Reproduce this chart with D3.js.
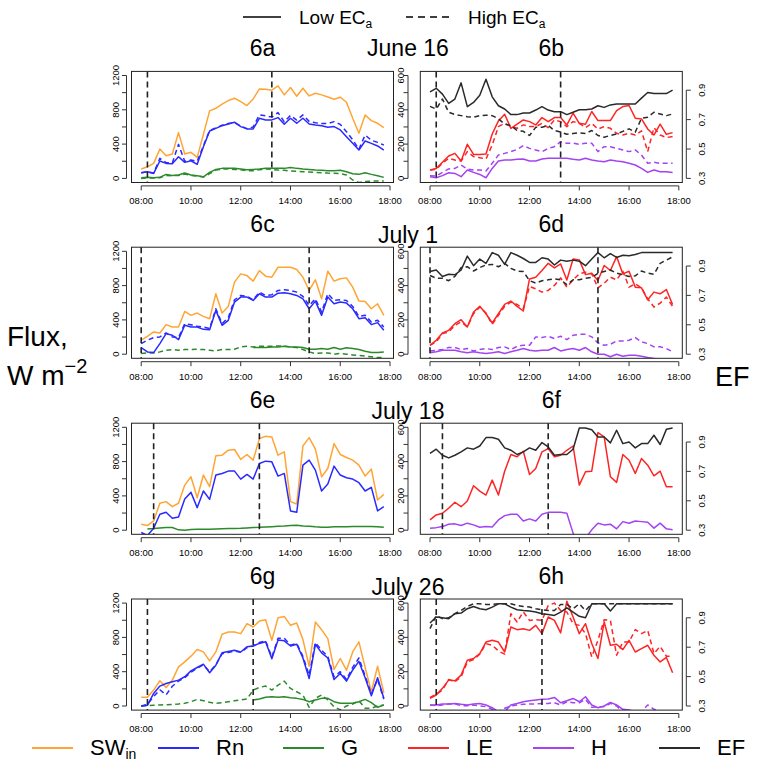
<!DOCTYPE html>
<html><head><meta charset="utf-8">
<script src="https://cdn.jsdelivr.net/npm/d3@7"></script>
<style>body{margin:0;background:#fff}svg{display:block}text{font-family:"Liberation Sans",Arial,sans-serif;fill:#000}</style>
</head><body><svg id="c" width="767" height="761"></svg>
<script>
const times = ["08:00","08:15","08:30","08:45","09:00","09:15","09:30","09:45","10:00","10:15",
"10:30","10:45","11:00","11:15","11:30","11:45","12:00","12:15","12:30","12:45",
"13:00","13:15","13:30","13:45","14:00","14:15","14:30","14:45","15:00","15:15",
"15:30","15:45","16:00","16:15","16:30","16:45","17:00","17:15","17:30","17:45"];
const timeTicks = ["08:00","10:00","12:00","14:00","16:00","18:00"];
const fluxTicksLeft = [0,200,400,600,800,1000,1200];
const fluxLabelsLeft = [0,400,800,1200];
const fluxTicksRight = [0,100,200,300,400,500,600];
const fluxLabelsRight = [0,200,400,600];
const efTicks = [0.3,0.5,0.7,0.9];
const panelIds = [["6a","6b"],["6c","6d"],["6e","6f"],["6g","6h"]];
const dates = ["June 16","July 1","July 18","July 26"];
const markTimes = [["08:15","13:15"],["08:00","14:45"],["08:30","12:45"],["08:15","12:30"]];

// June 16
const swin_jun16 = [109,136,175,343,265,284,534,284,304,245,514,787,818,865,908,935,896,849,927,1044,1040,1029,1079,974,1060,958,1052,962,993,974,950,923,947,888,701,526,740,674,643,592];
const rn_jun16_low = [66,78,58,203,175,171,253,187,206,164,370,553,584,615,635,655,604,577,577,701,682,682,709,631,701,643,701,635,623,615,596,604,565,487,409,331,436,409,378,331];
const rn_jun16_high = [66,78,62,234,185,180,397,200,215,200,380,560,590,620,640,650,610,580,600,740,730,715,767,660,735,680,740,665,650,640,640,662,630,545,450,340,506,445,420,390];
const g_jun16_low = [8,12,8,12,47,35,39,62,39,31,19,70,105,117,117,117,109,101,105,109,117,117,117,117,128,117,109,105,97,94,90,90,94,78,55,47,66,47,31,12];
const g_jun16_high = [0,4,4,8,35,31,35,50,35,27,15,55,97,109,109,105,101,90,90,101,109,105,97,94,86,82,78,74,70,66,62,60,55,40,-19,-47,-35,-31,-31,-31];
const le_jun16_low = [49,58,94,131,146,101,199,140,140,142,259,335,374,292,316,341,331,312,355,331,355,355,312,380,321,316,390,337,337,337,395,419,425,351,347,288,253,316,257,267];
const le_jun16_high = [49,53,88,117,107,101,156,127,121,113,195,302,321,302,292,312,302,302,321,296,341,331,302,331,321,296,321,288,302,292,263,253,263,253,277,156,296,253,238,244];
const h_jun16_low = [10,4,16,33,29,10,49,35,23,4,58,101,107,107,111,113,101,101,113,117,117,117,117,111,107,117,107,101,97,107,101,97,88,78,58,35,49,39,39,35];
const h_jun16_high = [16,14,35,55,58,78,55,49,49,43,88,136,146,156,169,191,175,166,156,175,185,214,205,205,199,205,205,156,185,185,175,166,156,166,136,88,94,88,88,88];
const ef_jun16_low = [0.889,0.913,0.873,0.81,0.84,0.95,0.788,0.817,0.866,0.974,0.855,0.794,0.772,0.734,0.734,0.745,0.745,0.765,0.788,0.765,0.754,0.754,0.734,0.75,0.767,0.767,0.772,0.794,0.783,0.8,0.806,0.806,0.806,0.806,0.846,0.884,0.877,0.877,0.877,0.9];
const ef_jun16_high = [0.79,0.772,0.84,0.75,0.734,0.727,0.72,0.716,0.727,0.73,0.727,0.705,0.67,0.66,0.626,0.62,0.592,0.648,0.648,0.66,0.626,0.615,0.6,0.605,0.61,0.605,0.626,0.592,0.58,0.592,0.603,0.62,0.637,0.615,0.709,0.716,0.75,0.738,0.727,0.738];

// July 1
const swin_jul1 = [163,209,259,248,345,317,317,499,453,480,441,414,705,480,557,840,937,917,852,975,910,898,1014,1014,1014,987,898,743,867,646,968,852,879,890,782,619,615,530,588,453];
const rn_jul1_low = [77,27,19,124,240,221,170,337,317,317,290,286,511,337,395,608,666,666,627,705,666,666,712,716,705,685,646,530,619,453,666,588,608,596,530,414,426,345,368,279];
const rn_jul1_high = [124,163,194,201,248,201,194,356,344,325,317,298,530,356,426,635,685,677,635,724,685,693,743,751,743,724,674,569,646,491,705,627,635,627,557,441,453,375,395,317];
const g_jul1_low = [null,null,null,null,null,null,null,null,null,null,null,null,null,null,null,null,null,null,77,77,77,85,85,93,85,85,77,58,58,66,58,77,58,74,66,54,35,19,19,27];
const g_jul1_high = [8,15,15,27,46,54,46,54,54,58,54,46,39,54,54,58,85,93,85,93,93,93,97,93,85,77,54,27,8,15,15,0,8,0,-8,-15,-23,-31,-39,-39];
const le_jul1_low = [52,81,124,139,178,201,159,246,279,236,182,236,290,310,279,252,439,449,488,530,503,526,433,555,550,464,472,430,517,488,569,468,484,391,387,317,362,352,377,290];
const le_jul1_high = [52,72,120,130,168,188,159,236,275,240,174,226,279,304,290,265,395,381,362,372,401,445,391,433,468,478,468,387,414,449,433,484,391,410,387,323,275,298,333,279];
const h_jul1_low = [8,14,23,23,23,14,8,14,8,4,8,14,4,14,23,33,23,19,23,23,39,19,27,33,23,39,14,0,0,-15,0,-12,-6,-6,-12,-19,-25,-31,-35,-35];
const h_jul1_high = [19,23,27,39,39,27,33,19,27,33,27,39,43,27,46,52,52,101,97,105,91,105,85,110,116,116,101,66,52,58,77,77,81,97,72,62,43,43,33,14];
const ef_jul1_low = [0.862,0.873,0.829,0.844,0.84,0.873,0.967,0.902,0.947,0.918,0.991,0.973,0.911,0.991,0.973,0.951,0.924,0.924,0.956,0.947,0.907,0.94,0.933,0.94,0.933,0.902,0.947,0.991,0.956,0.984,0.958,0.973,0.969,0.978,0.991,0.991,0.991,0.991,0.991,0.991];
const ef_jul1_high = [0.835,0.817,0.817,0.8,0.829,0.889,0.895,0.866,0.889,0.907,0.911,0.895,0.918,0.884,0.866,0.862,0.8,0.784,0.8,0.806,0.813,0.806,0.773,0.806,0.806,0.817,0.822,0.851,0.862,0.873,0.851,0.84,0.829,0.833,0.866,0.851,0.844,0.918,0.94,0.962];

// July 18
const swin_jul18 = [70,54,108,314,333,275,314,526,623,379,643,507,867,875,933,941,825,883,817,1068,1095,1088,875,914,333,306,983,1080,945,623,720,1010,883,848,817,759,631,712,352,418];
const rn_jul18 = [-27,-62,23,186,209,139,155,364,441,263,457,360,643,662,689,689,596,650,596,778,805,797,631,662,225,209,759,817,701,457,538,747,643,612,596,554,457,499,225,275];
const g_jul18 = [null,15,19,27,31,31,4,0,8,10,12,12,15,17,19,21,23,27,31,33,37,41,46,50,56,58,50,46,39,35,35,39,39,39,42,42,42,42,39,35];
const le_jul18 = [60,89,99,128,163,137,170,259,228,205,292,205,344,441,428,460,325,360,457,476,428,437,466,491,263,341,344,569,544,312,279,441,408,331,418,379,317,344,253,253];
const h_jul18 = [12,15,21,35,37,27,41,31,17,21,19,60,85,93,93,54,66,54,93,104,104,104,99,-17,-85,-46,2,41,31,35,8,50,41,54,50,46,12,41,8,2];
const ef_jul18 = [0.822,0.851,0.81,0.792,0.81,0.833,0.86,0.851,0.873,0.93,0.93,0.919,0.86,0.844,0.815,0.833,0.86,0.844,0.896,0.867,0.81,0.815,0.815,0.851,0.995,0.995,0.984,0.934,0.934,0.894,0.98,0.889,0.9,0.86,0.889,0.889,0.946,0.883,0.986,0.995];

// July 26
const swin_jul26 = [101,101,186,294,217,302,457,515,581,658,631,526,631,836,863,863,844,960,921,991,1006,766,1030,1045,941,968,774,464,979,890,786,426,554,418,631,747,449,166,464,155];
const rn_jul26_low = [0,8,147,232,263,283,302,341,410,449,488,387,476,620,635,650,630,690,700,730,750,550,770,760,700,720,560,320,720,620,560,310,380,290,420,520,330,120,330,90];
const rn_jul26_high = [0,20,110,190,130,230,290,330,395,440,480,400,480,610,625,640,625,680,700,740,760,570,790,790,710,730,580,360,740,650,580,340,400,310,450,560,350,140,310,80];
const g_jul26_low = [null,null,null,null,null,null,null,null,null,null,null,null,null,null,null,null,null,null,70,81,101,108,101,108,97,89,77,50,70,89,89,50,31,31,31,50,77,39,-15,12];
const g_jul26_high = [0,4,8,12,15,19,23,31,50,77,62,43,31,39,50,62,70,81,186,217,232,186,244,290,205,166,128,-15,89,128,70,-8,-46,0,23,62,-27,-27,0,12];
const le_jul26_low = [45,64,103,151,147,180,267,277,306,373,383,373,315,461,445,451,441,470,422,519,499,426,611,519,422,480,364,277,490,354,360,329,383,315,335,354,296,257,283,194];
const le_jul26_high = [50,68,93,155,141,170,257,271,302,364,354,321,302,538,490,548,499,503,499,586,600,557,548,480,470,422,286,383,503,499,296,373,373,445,422,441,306,348,290,290];
const h_jul26_low = [6,6,12,12,15,10,6,12,15,6,-10,-33,-33,6,15,25,31,35,39,41,50,19,31,44,25,54,6,-10,0,21,6,-19,-23,-33,-33,-33,-33,-33,-33,-33];
const h_jul26_high = [6,2,6,12,12,2,2,6,0,-4,-19,-33,-13,0,6,10,12,12,15,15,19,6,25,19,19,39,-8,-4,-4,15,0,-33,-33,-33,-33,6,-19,-33,-33,-33];
const ef_jul26_low = [0.865,0.905,0.9,0.894,0.928,0.932,0.962,0.977,0.962,0.955,0.973,0.995,0.995,0.973,0.955,0.95,0.946,0.939,0.928,0.923,0.916,0.939,0.968,0.939,0.91,0.9,0.995,0.995,0.995,0.946,0.995,0.995,0.995,0.995,0.995,0.995,0.995,0.995,0.995,0.995];
const ef_jul26_high = [0.826,0.916,0.894,0.9,0.928,0.95,0.977,0.995,0.995,0.991,0.991,0.995,0.995,0.995,0.984,0.977,0.973,0.962,0.955,0.95,0.95,0.991,0.991,0.962,0.995,0.95,0.995,0.995,0.995,0.995,0.995,0.995,0.995,0.995,0.995,0.995,0.995,0.995,0.995,0.995];

const COL = {sw:"#FFA535", rn:"#2a2aff", g:"#2b8a2b", le:"#ff2424", h:"#a443f2", ef:"#2a2a2a"};

const leftPanels = [
  [{v:g_jun16_high,c:"g",d:1},{v:g_jun16_low,c:"g"},{v:swin_jun16,c:"sw"},{v:rn_jun16_high,c:"rn",d:1},{v:rn_jun16_low,c:"rn"}],
  [{v:g_jul1_high,c:"g",d:1},{v:g_jul1_low,c:"g"},{v:swin_jul1,c:"sw"},{v:rn_jul1_high,c:"rn",d:1},{v:rn_jul1_low,c:"rn"}],
  [{v:g_jul18,c:"g"},{v:swin_jul18,c:"sw"},{v:rn_jul18,c:"rn"}],
  [{v:g_jul26_high,c:"g",d:1},{v:g_jul26_low,c:"g"},{v:swin_jul26,c:"sw"},{v:rn_jul26_high,c:"rn",d:1},{v:rn_jul26_low,c:"rn"}]
];
const rightPanels = [
  [{v:h_jun16_high,c:"h",d:1},{v:h_jun16_low,c:"h"},{v:le_jun16_high,c:"le",d:1},{v:le_jun16_low,c:"le"},{v:ef_jun16_high,c:"ef",d:1,ef:1},{v:ef_jun16_low,c:"ef",ef:1}],
  [{v:h_jul1_high,c:"h",d:1},{v:h_jul1_low,c:"h"},{v:le_jul1_high,c:"le",d:1},{v:le_jul1_low,c:"le"},{v:ef_jul1_high,c:"ef",d:1,ef:1},{v:ef_jul1_low,c:"ef",ef:1}],
  [{v:h_jul18,c:"h"},{v:le_jul18,c:"le"},{v:ef_jul18,c:"ef",ef:1}],
  [{v:h_jul26_high,c:"h",d:1},{v:h_jul26_low,c:"h"},{v:le_jul26_high,c:"le",d:1},{v:le_jul26_low,c:"le"},{v:ef_jul26_high,c:"ef",d:1,ef:1},{v:ef_jul26_low,c:"ef",ef:1}]
];

const svg = d3.select("#c");
const toH = s => { const p = s.split(":").map(Number); return p[0] + p[1]/60; };
const rowZero = [178.4, 354.2, 530.2, 706.0];
const HT = 102.9, PAD = 4.1;
const xDom = [7.61, 18.14];
const sides = [{x0:131.5, x1:393.5, max:1200, ticks:fluxTicksLeft, labels:fluxLabelsLeft, axisX:126.5, labX:118.5},
               {x0:420.3, x1:682.3, max:600, ticks:fluxTicksRight, labels:fluxLabelsRight, axisX:408, labX:403.5}];
const tickFont = 9.5;

rowZero.forEach((z, r) => {
  [0,1].forEach(s => {
    const S = sides[s];
    const x = d3.scaleLinear().domain(xDom).range([S.x0, S.x1]);
    const y = d3.scaleLinear().domain([0, S.max]).range([z, z - HT]);
    const yEF = d3.scaleLinear().domain([0.3, 1.0]).range([z, z - HT]);
    const top = z - HT - PAD, bot = z + PAD;
    const g = svg.append("g");
    const cid = "clip" + r + "_" + s;
    svg.append("clipPath").attr("id", cid).append("rect")
      .attr("x", S.x0).attr("y", top).attr("width", S.x1 - S.x0).attr("height", bot - top);
    const list = s === 0 ? leftPanels[r] : rightPanels[r];
    const lg = g.append("g").attr("clip-path", "url(#" + cid + ")");
    list.forEach(ser => {
      const sc = ser.ef ? yEF : y;
      const line = d3.line().defined(d => d != null)
        .x((d, i) => x(toH(times[i]))).y(d => sc(d));
      lg.append("path").datum(ser.v).attr("d", line)
        .attr("fill", "none").attr("stroke", COL[ser.c]).attr("stroke-width", 1.5)
        .attr("stroke-linejoin", "round")
        .attr("stroke-dasharray", ser.d ? "5,3.5" : null);
    });
    markTimes[r].forEach(t => {
      g.append("line").attr("x1", x(toH(t))).attr("x2", x(toH(t)))
        .attr("y1", top).attr("y2", bot)
        .attr("stroke", "#222").attr("stroke-width", 1.6).attr("stroke-dasharray", "6,4");
    });
    g.append("rect").attr("x", S.x0).attr("y", top).attr("width", S.x1 - S.x0).attr("height", bot - top)
      .attr("fill", "none").attr("stroke", "#222").attr("stroke-width", 1);
    const ay = z + 7.5;
    g.append("line").attr("x1", x(toH(timeTicks[0]))).attr("x2", x(toH(timeTicks[timeTicks.length-1])))
      .attr("y1", ay).attr("y2", ay).attr("stroke", "#333");
    timeTicks.forEach(t => {
      const xx = x(toH(t));
      g.append("line").attr("x1", xx).attr("x2", xx).attr("y1", ay).attr("y2", ay + 4.5).attr("stroke", "#333");
      g.append("text").attr("x", xx).attr("y", z + 26).attr("text-anchor", "middle")
        .attr("font-size", tickFont).attr("fill", "#333").text(t);
    });
    g.append("line").attr("x1", S.axisX).attr("x2", S.axisX)
      .attr("y1", y(0)).attr("y2", y(S.max)).attr("stroke", "#333");
    S.ticks.forEach(v => {
      g.append("line").attr("x1", S.axisX).attr("x2", S.axisX - 4.5).attr("y1", y(v)).attr("y2", y(v)).attr("stroke", "#333");
    });
    S.labels.forEach(v => {
      g.append("text").attr("transform", `translate(${S.labX},${y(v)}) rotate(-90)`)
        .attr("text-anchor", "middle").attr("font-size", tickFont).attr("fill", "#333").text(v);
    });
    if (s === 1) {
      const ex = S.x1 + 4;
      g.append("line").attr("x1", ex).attr("x2", ex).attr("y1", yEF(efTicks[0])).attr("y2", yEF(efTicks[efTicks.length-1])).attr("stroke", "#333");
      efTicks.forEach(v => {
        g.append("line").attr("x1", ex).attr("x2", ex + 4.5).attr("y1", yEF(v)).attr("y2", yEF(v)).attr("stroke", "#333");
        g.append("text").attr("transform", `translate(${ex + 19},${yEF(v)}) rotate(-90)`)
          .attr("text-anchor", "middle").attr("font-size", tickFont).attr("fill", "#333").text(v.toFixed(1));
      });
    }
    svg.append("text").attr("x", (S.x0 + S.x1) / 2).attr("y", top - 15).attr("text-anchor", "middle")
      .attr("font-size", 23).text(panelIds[r][s]);
  });
  svg.append("text").attr("x", 408).attr("y", rowZero[r] - HT - PAD - (r === 0 ? 15 : 4)).attr("text-anchor", "middle")
    .attr("font-size", 23).text(dates[r]);
});

// axis titles
svg.append("text").attr("x", 7).attr("y", 346).attr("font-size", 28).text("Flux,");
const wt = svg.append("text").attr("x", 7).attr("y", 385).attr("font-size", 28);
wt.append("tspan").text("W m");
wt.append("tspan").attr("dy", -12).attr("font-size", 20).text("\u22122");
svg.append("text").attr("x", 715).attr("y", 386).attr("font-size", 27).text("EF");

// top legend
const tl = svg.append("g");
tl.append("line").attr("x1", 243).attr("x2", 281).attr("y1", 17).attr("y2", 17).attr("stroke", "#000").attr("stroke-width", 1.5);
const lt1 = tl.append("text").attr("x", 299).attr("y", 24).attr("font-size", 19);
lt1.append("tspan").text("Low EC");
lt1.append("tspan").attr("dy", 4).attr("font-size", 12).text("a");
tl.append("line").attr("x1", 406).attr("x2", 449).attr("y1", 17).attr("y2", 17).attr("stroke", "#000").attr("stroke-width", 1.5).attr("stroke-dasharray", "7,5");
const lt2 = tl.append("text").attr("x", 468).attr("y", 24).attr("font-size", 19);
lt2.append("tspan").text("High EC");
lt2.append("tspan").attr("dy", 4).attr("font-size", 12).text("a");

// bottom legend
const legendItems = [
  {c:"sw", x:32, label:"SW", sub:"in"},
  {c:"rn", x:158, label:"Rn"},
  {c:"g", x:283, label:"G"},
  {c:"le", x:408, label:"LE"},
  {c:"h", x:533, label:"H"},
  {c:"ef", x:659, label:"EF"}
];
const bl = svg.append("g");
legendItems.forEach(it => {
  bl.append("line").attr("x1", it.x).attr("x2", it.x + 41).attr("y1", 748).attr("y2", 748)
    .attr("stroke", COL[it.c]).attr("stroke-width", 2);
  const t = bl.append("text").attr("x", it.x + 58).attr("y", 755).attr("font-size", 22);
  t.append("tspan").text(it.label);
  if (it.sub) t.append("tspan").attr("dy", 4).attr("font-size", 14).text(it.sub);
});
</script></body></html>
